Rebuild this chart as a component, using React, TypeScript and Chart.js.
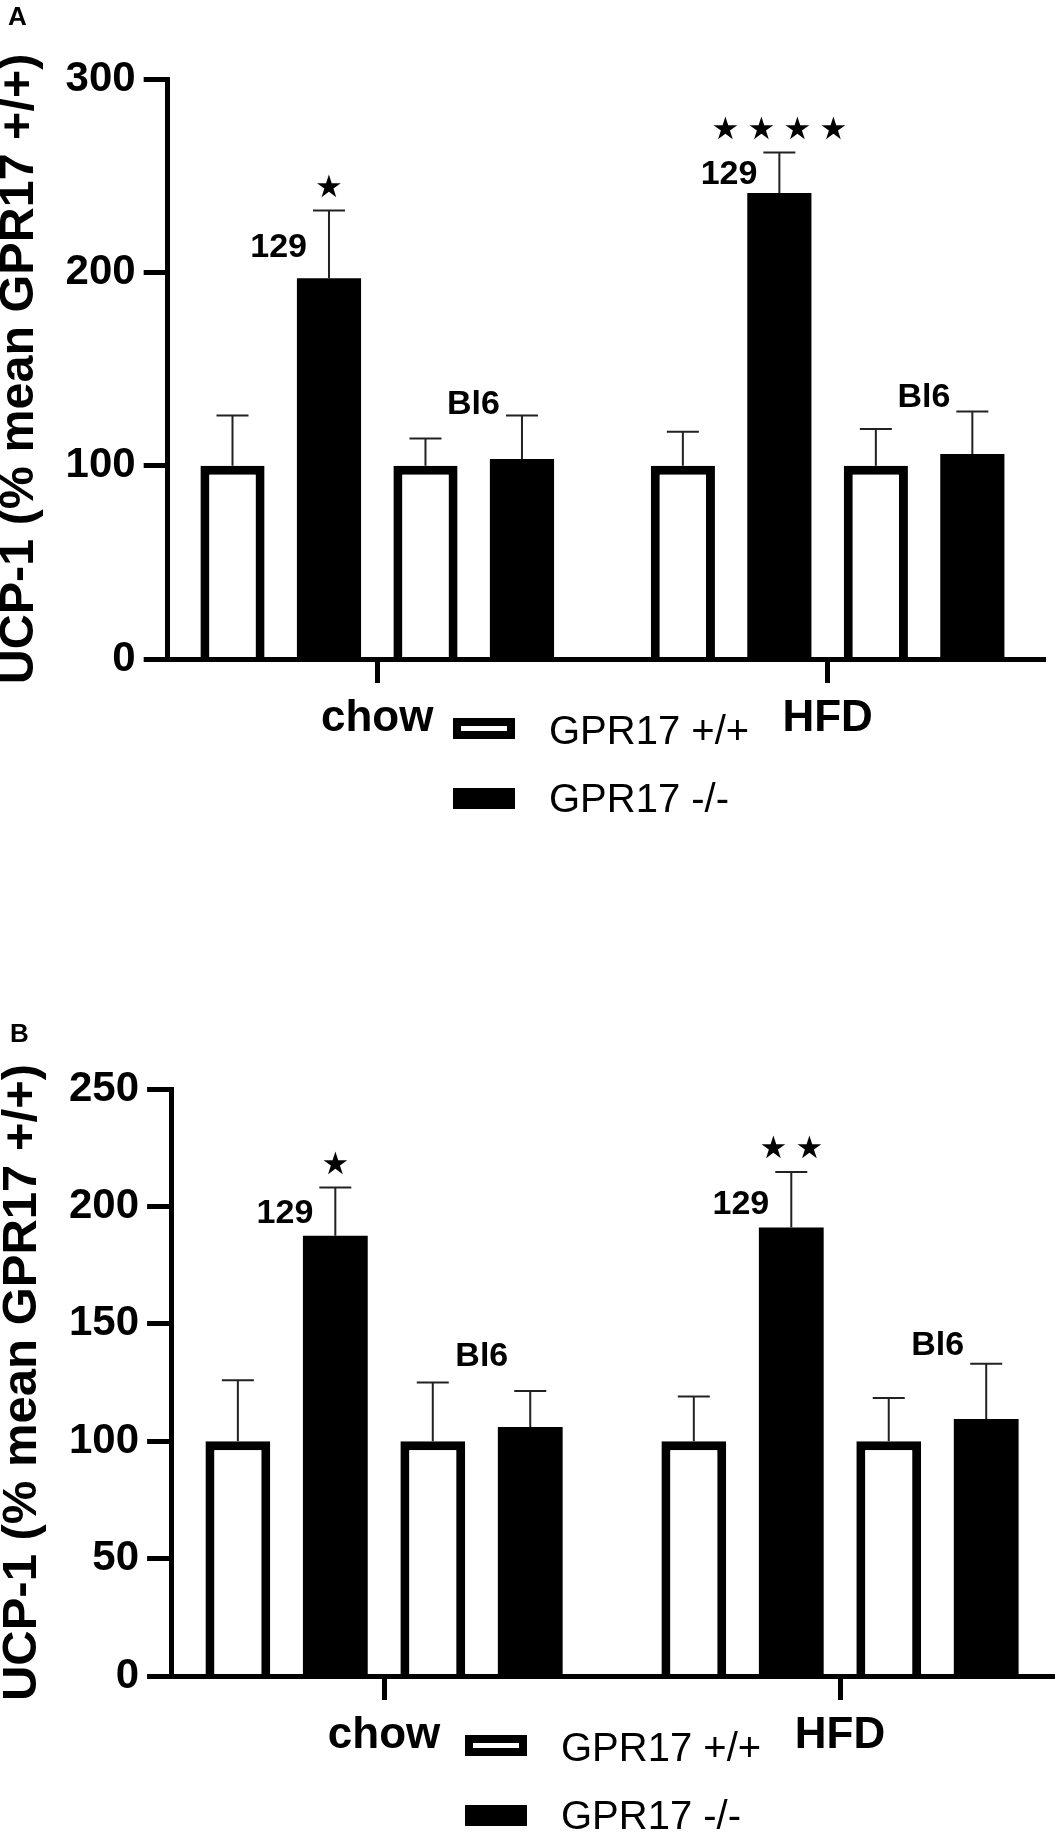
import React, { useEffect, useRef } from "react";
import { Chart, registerables } from "chart.js";

Chart.register(...registerables);

const SANS = '"Liberation Sans", Arial, Helvetica, sans-serif';
const STAR_FONT = '"DejaVu Sans", sans-serif';

const groups = ["chow", "HFD"];
const seriesLabels = ["GPR17 +/+", "GPR17 -/-", "GPR17 +/+", "GPR17 -/-"];
const yTitle = "UCP-1 (% mean GPR17 +/+)";

// panel A: mean and SEM per group (129 wt, 129 ko, Bl6 wt, Bl6 ko)
const wt129A = [100, 100];
const ko129A = [197, 241];
const wtBl6A = [100, 100];
const koBl6A = [103.5, 106];
const wt129SemA = [26, 17.5];
const ko129SemA = [35, 21];
const wtBl6SemA = [14, 19];
const koBl6SemA = [22.5, 22];
const starsA = [1, 4]; // significance on the 129 knockouts
const yTicksA = [0, 100, 200, 300];

// panel B
const wt129B = [100, 100];
const ko129B = [187.5, 191];
const wtBl6B = [100, 100];
const koBl6B = [106, 109.5];
const wt129SemB = [26, 19];
const ko129SemB = [20.5, 23.6];
const wtBl6SemB = [25, 18.4];
const koBl6SemB = [15.4, 23.5];
const starsB = [1, 2];
const yTicksB = [0, 50, 100, 150, 200, 250];

interface Note {
  text: string;
  ds: number;
  idx: number;
  at: number; // value on the y scale where the text sits
}

interface Panel {
  letter: string;
  letterX: number;
  letterY: number;
  top: number;
  height: number;
  means: number[][];
  sems: number[][];
  stars: number[];
  yTicks: number[];
  notes: Note[];
  padding: { top: number; left: number; right: number; bottom: number };
  padStart: number;
  padEnd: number;
  catPct: number;
  titleSize: number;
  legendX: number;
}

const panels: Panel[] = [
  {
    letter: "A",
    letterX: 8,
    letterY: 25,
    top: 0,
    height: 880,
    means: [wt129A, ko129A, wtBl6A, koBl6A],
    sems: [wt129SemA, ko129SemA, wtBl6SemA, koBl6SemA],
    stars: starsA,
    yTicks: yTicksA,
    notes: [
      { text: "129", ds: 1, idx: 0, at: 214 },
      { text: "129", ds: 1, idx: 1, at: 252 },
      { text: "Bl6", ds: 3, idx: 0, at: 133 },
      { text: "Bl6", ds: 3, idx: 1, at: 136.5 },
    ],
    padding: { top: 79, left: 0, right: 10, bottom: 126.2 },
    padStart: 0.4653,
    padEnd: 0.4827,
    catPct: 0.857,
    titleSize: 48.5,
    legendX: 453,
  },
  {
    letter: "B",
    letterX: 10,
    letterY: 42,
    top: 1000,
    height: 832,
    means: [wt129B, ko129B, wtBl6B, koBl6B],
    sems: [wt129SemB, ko129SemB, wtBl6SemB, koBl6SemB],
    stars: starsB,
    yTicks: yTicksB,
    notes: [
      { text: "129", ds: 1, idx: 0, at: 198 },
      { text: "129", ds: 1, idx: 1, at: 201.7 },
      { text: "Bl6", ds: 3, idx: 0, at: 137 },
      { text: "Bl6", ds: 3, idx: 1, at: 142 },
    ],
    padding: { top: 89, left: 3, right: 0, bottom: 61.2 },
    padStart: 0.4671,
    padEnd: 0.4715,
    catPct: 0.855,
    titleSize: 49,
    legendX: 465,
  },
];

// error bars, strain labels, stars, legend and panel letter
const makeExtras = (p: Panel) => ({
  id: "extras",
  afterDatasetsDraw(chart: any) {
    const { ctx } = chart;
    const y = chart.scales.y;
    ctx.save();
    ctx.strokeStyle = "#222";
    ctx.lineWidth = 2;
    p.sems.forEach((sem, di) => {
      chart.getDatasetMeta(di).data.forEach((bar: any, i: number) => {
        const top = y.getPixelForValue(p.means[di][i] + sem[i]);
        ctx.beginPath();
        ctx.moveTo(bar.x, bar.y);
        ctx.lineTo(bar.x, top);
        ctx.moveTo(bar.x - 16, top);
        ctx.lineTo(bar.x + 16, top);
        ctx.stroke();
      });
    });
    ctx.restore();
  },
  afterDraw(chart: any) {
    const { ctx, chartArea } = chart;
    const y = chart.scales.y;
    ctx.save();
    ctx.fillStyle = "#000";

    // strain labels
    ctx.font = `bold 34px ${SANS}`;
    ctx.textAlign = "right";
    ctx.textBaseline = "alphabetic";
    p.notes.forEach((n) => {
      const bar: any = chart.getDatasetMeta(n.ds).data[n.idx];
      ctx.fillText(n.text, bar.x - 22, y.getPixelForValue(n.at) + 12);
    });

    // significance stars above the 129 knockouts
    ctx.font = `31px ${STAR_FONT}`;
    ctx.textAlign = "center";
    ctx.textBaseline = "middle";
    chart.getDatasetMeta(1).data.forEach((bar: any, i: number) => {
      const cap = y.getPixelForValue(p.means[1][i] + p.sems[1][i]);
      const n = p.stars[i];
      for (let k = 0; k < n; k++) {
        ctx.fillText("\u2605", bar.x + (k - (n - 1) / 2) * 36, cap - 22);
      }
    });

    // legend (first two datasets)
    const base = chartArea.bottom;
    [0, 1].forEach((di, k) => {
      const ds = chart.data.datasets[di];
      const bx = p.legendX;
      const by = base + 59 + k * 70;
      ctx.fillStyle = ds.borderWidth ? ds.borderColor : ds.backgroundColor;
      ctx.fillRect(bx, by, 62, 21);
      if (ds.borderWidth) {
        ctx.fillStyle = ds.backgroundColor;
        ctx.fillRect(bx + 8, by + 8, 46, 5);
      }
      ctx.fillStyle = "#000";
      ctx.font = `40px ${SANS}`;
      ctx.textAlign = "left";
      ctx.textBaseline = "alphabetic";
      ctx.fillText(ds.label, bx + 96, base + 85 + k * 68);
    });

    ctx.font = `bold 26px ${SANS}`;
    ctx.textAlign = "left";
    ctx.fillText(p.letter, p.letterX, p.letterY);
    ctx.restore();
  },
});

const PanelChart = ({ p }: { p: Panel }) => {
  const canvasRef = useRef<HTMLCanvasElement | null>(null);

  useEffect(() => {
    if (!canvasRef.current) return;
    const white = { backgroundColor: "#fff", borderColor: "#000", borderWidth: 9 };
    const black = { backgroundColor: "#000", borderColor: "#000", borderWidth: 0 };
    const styles = [white, black, white, black];
    const yMax = p.yTicks[p.yTicks.length - 1];

    const chart = new Chart(canvasRef.current, {
      type: "bar",
      data: {
        labels: groups,
        datasets: p.means.map((m, i) => ({
          label: seriesLabels[i],
          data: m,
          ...styles[i],
          categoryPercentage: p.catPct,
          barPercentage: 0.665,
        })),
      },
      options: {
        responsive: false,
        animation: false,
        layout: { padding: p.padding },
        plugins: {
          legend: { display: false },
          tooltip: { enabled: false },
        },
        scales: {
          x: {
            offset: true,
            // groups sit a little off the even split in the original figure
            afterBuildTicks: (scale: any) => {
              scale._startValue = -p.padStart;
              scale._valueRange = 1 + p.padStart + p.padEnd;
            },
            grid: {
              offset: false,
              drawOnChartArea: false,
              drawTicks: true,
              tickLength: 24,
              tickWidth: 5,
              tickColor: "#000",
            },
            border: { display: true, color: "#000", width: 5, z: 1 },
            ticks: {
              color: "#000",
              padding: 9,
              maxRotation: 0,
              autoSkip: false,
              font: { family: SANS, size: 44, weight: "bold" },
            },
          },
          y: {
            min: 0,
            max: yMax,
            ticks: {
              stepSize: p.yTicks[1] - p.yTicks[0],
              color: "#000",
              padding: 8,
              font: { family: SANS, size: 42, weight: "bold" },
            },
            grid: {
              drawOnChartArea: false,
              drawTicks: true,
              tickLength: 24,
              tickWidth: 5,
              tickColor: "#000",
            },
            border: { display: true, color: "#000", width: 5, z: 1 },
            title: {
              display: true,
              text: yTitle,
              color: "#000",
              font: { family: SANS, size: p.titleSize, weight: "bold", lineHeight: 0.8 },
              padding: { top: 0, bottom: 18.8 },
            },
          },
        },
      } as any,
      plugins: [makeExtras(p)],
    });

    return () => {
      chart.destroy();
    };
  }, []);

  return (
    <canvas
      ref={canvasRef}
      width={1055}
      height={p.height}
      style={{ position: "absolute", left: 0, top: p.top, width: 1055, height: p.height }}
    />
  );
};

const App = () => {
  return (
    <div
      style={{
        position: "absolute",
        left: 0,
        top: 0,
        width: 1055,
        height: 1832,
        background: "#fff",
        overflow: "hidden",
      }}
    >
      {panels.map((p) => (
        <PanelChart key={p.letter} p={p} />
      ))}
    </div>
  );
};

export default App;
